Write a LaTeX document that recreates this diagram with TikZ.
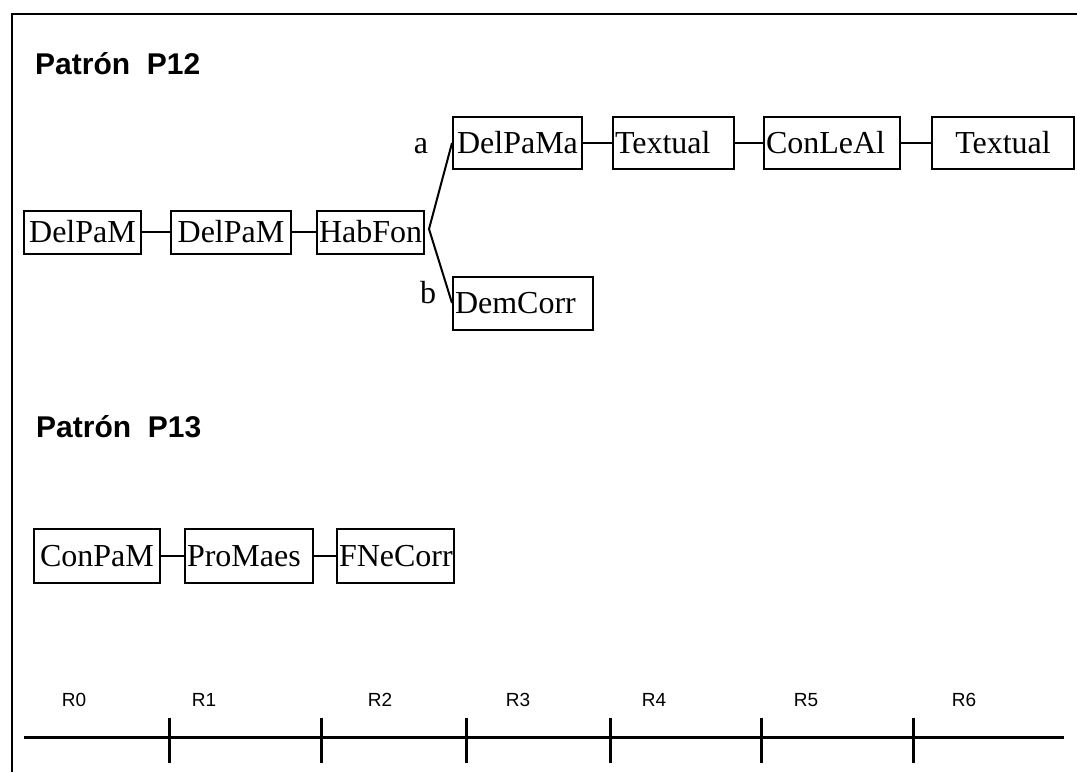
\documentclass[tikz,border=0pt]{standalone}
\usepackage{fontspec}
\setmainfont{Liberation Serif}
\newfontfamily\arialfont{Liberation Sans}
\usetikzlibrary{positioning}

\tikzset{
  caja/.style={draw, line width=2pt, inner xsep=2pt, inner ysep=0pt,
    minimum height=#1, anchor=west, font=\fontsize{32}{34}\selectfont},
  caja/.default=43pt,
  lin/.style={line width=2pt},
  titulo/.style={font=\arialfont\bfseries\fontsize{30}{32}\selectfont,
    anchor=base west, inner sep=0pt},
  rot/.style={font=\arialfont\fontsize{19}{21}\selectfont, inner sep=0pt},
  letra/.style={font=\fontsize{32}{34}\selectfont, anchor=base, inner sep=0pt}
}

\begin{document}
\begin{tikzpicture}[x=1pt,y=-1pt]
  \useasboundingbox (0,0) rectangle (1077,772);
  \draw[line width=2.6pt] (12,772) -- (12,14) -- (1077,14);

  \node[titulo] (p12) at (35,74) {Patrón\ \ P12};
  \node[caja, text width=113pt, align=center] (dp1) at (23,232) {DelPaM};
  \node[caja, text width=116pt, align=center] (dp2) at (170,232) {DelPaM};
  \node[caja, text width=103pt, align=center] (hab) at (316,232) {HabFon};
  \node[caja=52pt, text width=125pt, align=center] (dpa) at (452,143) {DelPaMa};
  \node[caja=52pt, text width=117pt, align=left] (tx1) at (612,143) {Textual};
  \node[caja=52pt, text width=132pt, align=left] (cla) at (763,143) {ConLeAl};
  \node[caja=52pt, text width=138pt, align=center] (tx2) at (931,143) {Textual};
  \node[caja=53pt, text width=136pt, align=left] (dem) at (452,303) {DemCorr};
  \node[letra] (la) at (421,153) {a};
  \node[letra] (lb) at (428,303) {b};
  \coordinate (horq) at (429,229);
  \draw[lin] (dp1) -- (dp2);
  \draw[lin] (dp2) -- (hab);
  \draw[lin] (dpa.west) -- (horq) -- (dem.west);
  \draw[lin] (dpa) -- (tx1);
  \draw[lin] (tx1) -- (cla);
  \draw[lin] (cla) -- (tx2);

  \node[titulo] (p13) at (36,437) {Patrón\ \ P13};
  \node[caja=54pt, text width=122pt, align=center] (cpm) at (33,556) {ConPaM};
  \node[caja=54pt, text width=124pt, align=left] (pma) at (184,556) {ProMaes};
  \node[caja=54pt, text width=113pt, align=center] (fnc) at (336,556) {FNeCorr};
  \draw[lin] (cpm) -- (pma);
  \draw[lin] (pma) -- (fnc);

  \coordinate (ini) at (24,737);
  \coordinate (fin) at (1064,737);
  \draw[line width=3pt] (ini) -- (fin);
  \foreach \x in {169,321,466,610,761,913}
    \draw[line width=3pt] (\x,718) -- (\x,763);
  \foreach \x [count=\i from 0] in {74,204,380,518,654,806,964}
    \node[rot] (r\i) at (\x,700) {R\i};
\end{tikzpicture}
\end{document}
